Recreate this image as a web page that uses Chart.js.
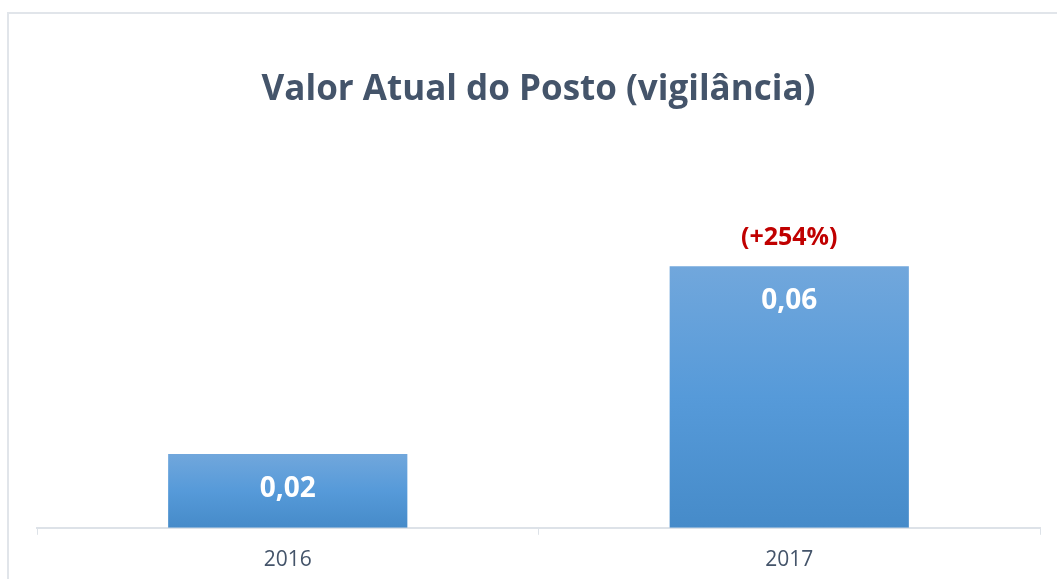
<!DOCTYPE html>
<html>
<head>
<meta charset="utf-8">
<script src="https://cdn.jsdelivr.net/npm/chart.js@4"></script>
<style>
  html, body { margin: 0; padding: 0; background: #fff; }
  #wrap { position: relative; width: 1057px; height: 579px; overflow: hidden; }
  #frame { position: absolute; left: 7px; top: 12px; width: 1100px; height: 600px;
           border-left: 2px solid #e1e5ea; border-top: 2px solid #e1e5ea; }
  canvas { position: absolute; left: 0; top: 0; }
</style>
</head>
<body>
<div id="wrap">
  <div id="frame"></div>
  <canvas id="postoChart" width="1057" height="586"></canvas>
</div>
<script>
// Valores do gráfico
const anos = ['2016', '2017'];
const valores = [0.0172, 0.0609];
const rotulos = ['0,02', '0,06'];
const variacoes = [null, '(+254%)'];

const fonte = "'Open Sans', 'Liberation Sans', sans-serif";

// degradê vertical em cada barra
function corBarra(context) {
    const chart = context.chart;
    const area = chart.chartArea;
    if (!area || context.dataIndex === undefined) return '#5b9bd5';
    const y = chart.scales.y;
    const topo = y.getPixelForValue(valores[context.dataIndex]);
    const base = y.getPixelForValue(0);
    const g = chart.ctx.createLinearGradient(0, topo, 0, base);
    g.addColorStop(0, '#71a7dc');
    g.addColorStop(0.5, '#569ad9');
    g.addColorStop(1, '#468bc9');
    return g;
}

// rótulos dentro das barras e variação acima
const rotulosPlugin = {
    id: 'rotulos',
    afterDatasetsDraw(chart) {
        const ctx = chart.ctx;
        const meta = chart.getDatasetMeta(0);
        ctx.save();
        ctx.textAlign = 'center';
        ctx.textBaseline = 'middle';
        meta.data.forEach(function(bar, i) {
            ctx.fillStyle = '#ffffff';
            ctx.font = "bold 28px " + fonte;
            ctx.fillText(rotulos[i], bar.x, bar.y + 35);
            if (variacoes[i]) {
                ctx.fillStyle = '#c00000';
                ctx.font = "bold 25px " + fonte;
                ctx.fillText(variacoes[i], bar.x, bar.y - 28);
            }
        });
        ctx.restore();
    }
};

const ctx = document.getElementById('postoChart').getContext('2d');
new Chart(ctx, {
    type: 'bar',
    data: {
        labels: anos,
        datasets: [{
            label: 'Valor Atual do Posto',
            data: valores,
            backgroundColor: corBarra,
            borderWidth: 0,
            barPercentage: 0.477,
            categoryPercentage: 1.0
        }]
    },
    options: {
        responsive: false,
        animation: false,
        layout: {
            padding: { left: 37, right: 17, top: 0, bottom: 0 }
        },
        scales: {
            x: {
                grid: {
                    offset: true,
                    drawOnChartArea: false,
                    drawTicks: true,
                    tickLength: 7,
                    color: '#dde2e8'
                },
                border: { display: true, color: '#dde2e8', width: 2 },
                ticks: {
                    color: '#44546a',
                    padding: 13,
                    font: { family: fonte, size: 21 }
                }
            },
            y: {
                display: false,
                min: 0,
                max: 0.0882
            }
        },
        plugins: {
            legend: { display: false },
            tooltip: { enabled: false },
            title: {
                display: true,
                text: 'Valor Atual do Posto (vigilância)',
                color: '#44546a',
                font: { family: fonte, size: 35, weight: 'bold' },
                padding: { top: 69, bottom: 38 }
            }
        }
    },
    plugins: [rotulosPlugin]
});
</script>
</body>
</html>
